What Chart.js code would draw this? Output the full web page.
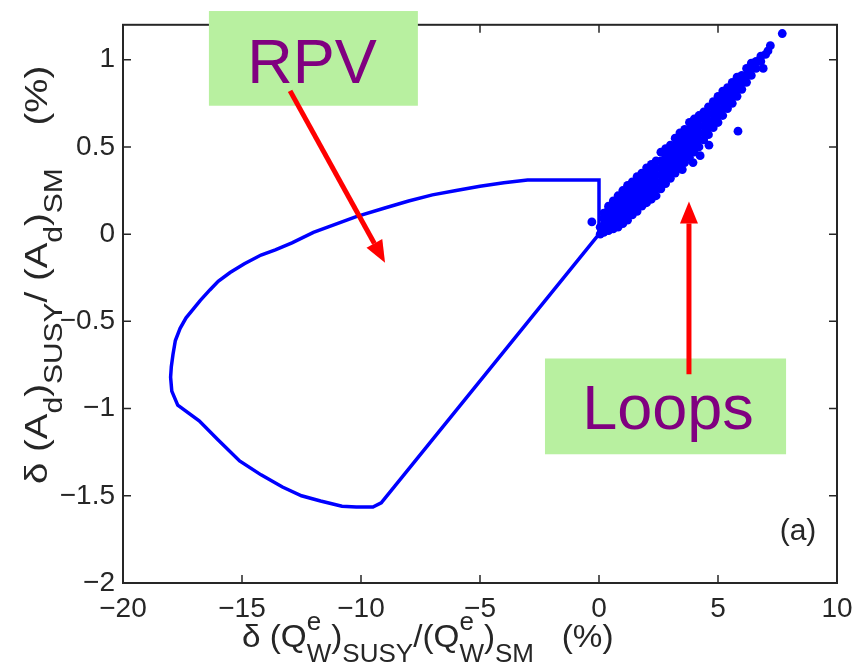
<!DOCTYPE html>
<html>
<head>
<meta charset="utf-8">
<script src="https://cdn.jsdelivr.net/npm/chart.js@4.4.0/dist/chart.umd.min.js"></script>
<style>
  html, body { margin: 0; padding: 0; background: #fff; }
  #wrap { width: 867px; height: 668px; }
</style>
</head>
<body>
<div id="wrap"><canvas id="chart" width="867" height="668"></canvas></div>
<script>
// RPV allowed region, boundary traced from the origin
const rpvX = [0, 0, -3.0, -4.0, -5.0, -6.0, -7.0, -8.0, -9.0, -10.2, -11.0, -12.0, -12.9, -13.6, -14.2, -14.9, -15.5, -16.0, -16.35, -16.75, -17.05, -17.35, -17.6, -17.8, -17.9, -17.97, -18.0, -17.95, -17.7, -16.8, -16.0, -15.1, -14.2, -13.3, -12.5, -11.7, -10.8, -10.2, -9.5, -9.15, 0];
const rpvY = [0, 0.31, 0.31, 0.295, 0.275, 0.25, 0.225, 0.19, 0.15, 0.10, 0.06, 0.01, -0.05, -0.09, -0.12, -0.17, -0.22, -0.27, -0.32, -0.38, -0.43, -0.48, -0.54, -0.61, -0.69, -0.76, -0.82, -0.90, -0.98, -1.07, -1.18, -1.30, -1.38, -1.45, -1.50, -1.53, -1.56, -1.565, -1.565, -1.54, 0];

// Loop-corrected points (MSSM scan), grouped by x column
const loopColX = [0.05, 0.2, 0.4, 0.6, 0.8, 1.0, 1.2, 1.4, 1.6, 1.8, 2.0, 2.2, 2.4, 2.6, 2.8, 3.0, 3.2, 3.4, 3.6, 3.8, 4.0, 4.2, 4.4, 4.6, 4.8, 5.0, 5.2, 5.4, 5.6, 5.8, 6.0, 6.2, 6.4, 6.6, 6.8, 7.0, 7.1, 7.2, 7.7];
const loopColY = [
  [0.00, 0.04],
  [0.01, 0.05, 0.09, 0.12],
  [0.02, 0.06, 0.10, 0.14, 0.16],
  [0.03, 0.07, 0.11, 0.15, 0.19],
  [0.04, 0.08, 0.12, 0.16, 0.20, 0.22],
  [0.06, 0.10, 0.14, 0.18, 0.22, 0.25],
  [0.08, 0.12, 0.16, 0.20, 0.24, 0.28],
  [0.11, 0.15, 0.19, 0.23, 0.27, 0.30],
  [0.13, 0.17, 0.21, 0.25, 0.29, 0.33],
  [0.16, 0.20, 0.24, 0.28, 0.32, 0.35],
  [0.18, 0.22, 0.26, 0.30, 0.34, 0.38],
  [0.20, 0.24, 0.28, 0.32, 0.36, 0.40],
  [0.22, 0.26, 0.30, 0.34, 0.38, 0.42],
  [0.26, 0.30, 0.34, 0.38, 0.42, 0.47],
  [0.29, 0.33, 0.37, 0.41, 0.45, 0.49],
  [0.32, 0.36, 0.40, 0.44, 0.48, 0.51],
  [0.35, 0.39, 0.43, 0.47, 0.51, 0.55],
  [0.38, 0.42, 0.46, 0.50, 0.54, 0.58],
  [0.41, 0.45, 0.49, 0.53, 0.57, 0.60],
  [0.44, 0.48, 0.52, 0.56, 0.60, 0.64],
  [0.47, 0.51, 0.55, 0.59, 0.63, 0.66],
  [0.50, 0.54, 0.58, 0.62, 0.66, 0.68],
  [0.54, 0.58, 0.62, 0.66, 0.70],
  [0.57, 0.61, 0.65, 0.69, 0.73],
  [0.61, 0.65, 0.69, 0.73, 0.76],
  [0.64, 0.68, 0.72, 0.76, 0.79],
  [0.68, 0.72, 0.76, 0.80, 0.82],
  [0.72, 0.76, 0.80, 0.84],
  [0.75, 0.79, 0.83, 0.87],
  [0.79, 0.83, 0.87, 0.90],
  [0.83, 0.87, 0.91],
  [0.87, 0.91, 0.95],
  [0.91, 0.95, 0.98],
  [0.95, 0.99],
  [0.99, 1.02],
  [1.03],
  [1.05],
  [1.08],
  [1.15]
];
// stray points off the band
const loopStrayX = [-0.3, 3.5, 3.95, 4.25, 4.62, 5.84, 6.9];
const loopStrayY = [0.07, 0.37, 0.41, 0.45, 0.51, 0.59, 0.95];

const xTicks = [-20, -15, -10, -5, 0, 5, 10];
const yTicks = [-2, -1.5, -1, -0.5, 0, 0.5, 1];

const FONT = "'Liberation Sans', Arial, Helvetica, sans-serif";
const INK = '#262626';

const rpvPts = rpvX.map((x, i) => ({ x: x, y: rpvY[i] }));
const loopPts = [];
loopColX.forEach((x, i) => loopColY[i].forEach(y => loopPts.push({ x: x, y: y })));
loopStrayX.forEach((x, i) => loopPts.push({ x: x, y: loopStrayY[i] }));

const fmt = v => String(v).replace('-', '\u2212');

// box + inward ticks on all four sides
const framePlugin = {
  id: 'frame',
  afterDraw(chart) {
    const { ctx, chartArea: a, scales: { x, y } } = chart;
    ctx.save();
    ctx.strokeStyle = INK;
    ctx.lineWidth = 1.5;
    ctx.beginPath();
    xTicks.forEach(v => {
      const p = x.getPixelForValue(v);
      ctx.moveTo(p, a.bottom); ctx.lineTo(p, a.bottom - 8);
      ctx.moveTo(p, a.top); ctx.lineTo(p, a.top + 8);
    });
    yTicks.forEach(v => {
      const p = y.getPixelForValue(v);
      ctx.moveTo(a.left, p); ctx.lineTo(a.left + 8, p);
      ctx.moveTo(a.right, p); ctx.lineTo(a.right - 8, p);
    });
    ctx.stroke();
    ctx.lineWidth = 2;
    ctx.strokeRect(a.left, a.top, a.right - a.left, a.bottom - a.top);
    ctx.restore();
  }
};

// axis titles with sub/superscripts
function drawRich(ctx, segs, stretch) {
  const MAIN = '32px ' + FONT, SUB = '25px ' + FONT;
  ctx.scale(stretch, 1);
  let cx = 0;
  segs.forEach(s => {
    if (s.sup !== undefined) {
      ctx.font = SUB;
      ctx.fillText(s.sup, cx, -17);
      ctx.fillText(s.sub, cx, 15);
      cx += Math.max(ctx.measureText(s.sup).width, ctx.measureText(s.sub).width);
    } else if (s.sub !== undefined) {
      ctx.font = SUB;
      ctx.fillText(s.sub, cx, 15);
      cx += ctx.measureText(s.sub).width;
    } else {
      ctx.font = MAIN;
      ctx.fillText(s.t, cx, 0);
      cx += ctx.measureText(s.t).width;
    }
  });
}

const titlePlugin = {
  id: 'titles',
  afterDraw(chart) {
    const { ctx, chartArea: a } = chart;
    ctx.save();
    ctx.fillStyle = INK;
    ctx.textBaseline = 'alphabetic';
    ctx.textAlign = 'left';
    // x title
    ctx.save();
    ctx.translate(a.left + 119, a.bottom + 64);
    drawRich(ctx, [
      { t: '\u03b4 (Q' }, { sup: 'e', sub: 'W' }, { t: ')' }, { sub: 'SUSY' },
      { t: '/(Q' }, { sup: 'e', sub: 'W' }, { t: ')' }, { sub: 'SM' }, { t: '   (%)' }
    ], 1.04);
    ctx.restore();
    // y title
    ctx.save();
    ctx.translate(47, a.bottom - 99);
    ctx.rotate(-Math.PI / 2);
    drawRich(ctx, [
      { t: '\u03b4 (A' }, { sub: 'd' }, { t: ')' }, { sub: 'SUSY' },
      { t: '/ (A' }, { sub: 'd' }, { t: ')' }, { sub: 'SM' }, { t: '    (%)' }
    ], 1.2);
    ctx.restore();
    ctx.restore();
  }
};

// labelled boxes and red arrows, positioned in data units
const noteBoxes = [
  { text: 'RPV', x1: -16.39, x2: -7.61, y1: 1.279, y2: 0.736, tx: -12.06, ty: 0.866 },
  { text: 'Loops', x1: -2.27, x2: 7.86, y1: -0.713, y2: -1.262, tx: 2.9, ty: -1.12 }
];
const noteArrows = [
  { x1: -12.98, y1: 0.821, x2: -8.99, y2: -0.164 },
  { x1: 3.78, y1: -0.804, x2: 3.78, y2: 0.187 }
];

const notePlugin = {
  id: 'notes',
  afterDraw(chart) {
    const { ctx, scales: { x, y } } = chart;
    ctx.save();
    noteBoxes.forEach(b => {
      const l = x.getPixelForValue(b.x1), r = x.getPixelForValue(b.x2);
      const t = y.getPixelForValue(b.y1), bt = y.getPixelForValue(b.y2);
      ctx.fillStyle = '#b8f0a0';
      ctx.fillRect(l, t, r - l, bt - t);
      ctx.fillStyle = '#800080';
      ctx.font = '63px ' + FONT;
      ctx.textAlign = 'center';
      ctx.textBaseline = 'alphabetic';
      ctx.fillText(b.text, x.getPixelForValue(b.tx), y.getPixelForValue(b.ty));
    });
    noteArrows.forEach(n => {
      const ax = x.getPixelForValue(n.x1), ay = y.getPixelForValue(n.y1);
      const bx = x.getPixelForValue(n.x2), by = y.getPixelForValue(n.y2);
      const ang = Math.atan2(by - ay, bx - ax);
      const len = 22, half = 9;
      const baseX = bx - len * Math.cos(ang), baseY = by - len * Math.sin(ang);
      ctx.strokeStyle = '#ff0000';
      ctx.fillStyle = '#ff0000';
      ctx.lineWidth = 5;
      ctx.beginPath();
      ctx.moveTo(ax, ay);
      ctx.lineTo(baseX, baseY);
      ctx.stroke();
      ctx.beginPath();
      ctx.moveTo(bx, by);
      ctx.lineTo(baseX + half * Math.sin(ang), baseY - half * Math.cos(ang));
      ctx.lineTo(baseX - half * Math.sin(ang), baseY + half * Math.cos(ang));
      ctx.closePath();
      ctx.fill();
    });
    // panel tag
    ctx.fillStyle = INK;
    ctx.font = '30px ' + FONT;
    ctx.textAlign = 'center';
    ctx.fillText('(a)', x.getPixelForValue(8.36), y.getPixelForValue(-1.754));
    ctx.restore();
  }
};

new Chart(document.getElementById('chart'), {
  type: 'scatter',
  data: {
    datasets: [
      {
        label: 'RPV',
        data: rpvPts,
        showLine: true,
        borderColor: '#0000ff',
        borderWidth: 3.5,
        pointRadius: 0,
        pointHoverRadius: 0,
        tension: 0,
        fill: false
      },
      {
        label: 'Loops',
        data: loopPts,
        backgroundColor: '#0000ff',
        borderWidth: 0,
        pointRadius: 4.4,
        pointHoverRadius: 4.4
      }
    ]
  },
  options: {
    responsive: false,
    animation: false,
    devicePixelRatio: 1,
    layout: { padding: { top: 18, right: 30, left: 0, bottom: 0 } },
    plugins: { legend: { display: false }, tooltip: { enabled: false } },
    scales: {
      x: {
        type: 'linear',
        min: -20, max: 10,
        grid: { display: false, drawTicks: false },
        border: { display: false },
        ticks: {
          stepSize: 5, includeBounds: false, autoSkip: false, maxRotation: 0,
          padding: 9, color: INK, font: { family: FONT, size: 28 },
          callback: fmt
        },
        afterFit: s => { s.height = 85; }
      },
      y: {
        type: 'linear',
        min: -2, max: 1.2,
        grid: { display: false, drawTicks: false },
        border: { display: false },
        ticks: {
          stepSize: 0.5, includeBounds: false, autoSkip: false,
          padding: 8, color: INK, font: { family: FONT, size: 28 },
          callback: fmt
        },
        afterFit: s => { s.width = 123; }
      }
    }
  },
  plugins: [framePlugin, notePlugin, titlePlugin]
});
</script>
</body>
</html>
